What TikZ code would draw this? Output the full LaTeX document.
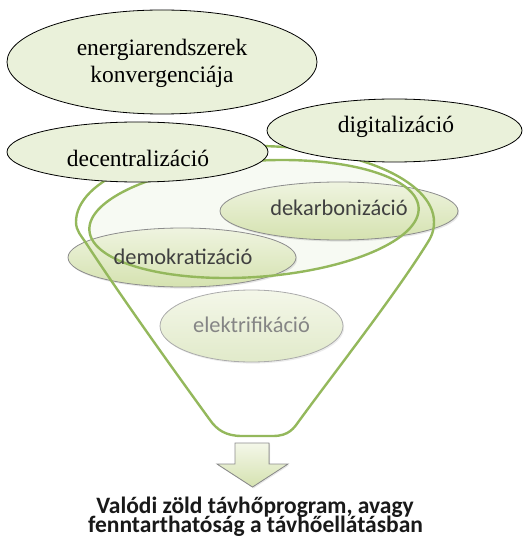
\documentclass[tikz,border=0pt]{standalone}
\usepackage{fontspec}
\setmainfont{Liberation Serif}
\newfontfamily\carlito{Carlito}
\usetikzlibrary{shapes.geometric,shadows}
\definecolor{funnelgreen}{HTML}{94B85C}
\definecolor{paleg}{HTML}{EAF1DA}
\definecolor{glowg}{HTML}{F7FAF3}
\definecolor{gtop}{HTML}{EFF4E0}
\definecolor{gbot}{HTML}{D5E2B0}
\definecolor{ltop}{HTML}{F4F7E9}
\definecolor{lbot}{HTML}{E1EACA}
\definecolor{greyline}{HTML}{8C8C8C}
\definecolor{lgreyline}{HTML}{ABABAB}
\definecolor{darktext}{HTML}{404040}
\definecolor{lighttext}{HTML}{858585}
\begin{document}
\begin{tikzpicture}[x=1pt,y=-1pt,
  blackell/.style={ellipse, draw=black, line width=0.8pt, fill=paleg, inner sep=0pt},
  greyell/.style={ellipse, draw=greyline, line width=0.8pt, top color=gtop, bottom color=gbot,
     inner sep=0pt, drop shadow={opacity=0.2, shadow xshift=1.2pt, shadow yshift=-1.6pt}},
  lightell/.style={ellipse, draw=lgreyline, line width=0.8pt, top color=ltop, bottom color=lbot,
     inner sep=0pt, drop shadow={opacity=0.15, shadow xshift=1.2pt, shadow yshift=-1.6pt}},
  funnel/.style={draw=funnelgreen, line width=2.4pt, line join=round},
  seriftext/.style={anchor=base, inner sep=0pt, font=\fontsize{23.5}{27}\selectfont, text=black},
  sanstext/.style={anchor=base, inner sep=0pt, font=\carlito\fontsize{22.4}{26}\selectfont, text=darktext},
  boldtext/.style={anchor=base, inner sep=0pt, font=\carlito\bfseries\fontsize{23.5}{19}\selectfont, text=black!90},
  arrowsty/.style={draw=greyline, line width=0.8pt, top color=ltop, bottom color=gbot,
     drop shadow={opacity=0.2, shadow xshift=1pt, shadow yshift=-1.4pt}}
]
\useasboundingbox (0,0) rectangle (526,537);

% faint glow inside the funnel rim
\node[ellipse, fill=glowg, draw=none, rotate=4, minimum width=330pt, minimum height=116pt, inner sep=0pt] (glow) at (254,219) {};

% inner ellipses
\node[greyell, minimum width=238pt, minimum height=58pt] (dekE) at (339,211) {};
\node[greyell, minimum width=228pt, minimum height=59pt] (demE) at (182,257.5) {};
\node[lightell, minimum width=183pt, minimum height=72pt] (eleE) at (251.5,326) {};

% funnel outline
\node[ellipse, funnel, rotate=4, minimum width=330pt, minimum height=116pt, inner sep=0pt] (rim) at (254,219) {};
\draw[funnel] (434,222) arc[start angle=0, end angle=-180, x radius=179, y radius=76]
  .. controls (76,231) and (81.6,236.3) .. (86,243)
  .. controls (120,295) and (170,365) .. (210,420)
  .. controls (217,430) and (226,436) .. (242,436)
  -- (273,436)
  .. controls (289,436) and (294,428) .. (299,421)
  .. controls (340,365) and (395,295) .. (428,242)
  .. controls (433,234) and (434,228) .. (434,222) -- cycle;

% texts of inner ellipses
\node[sanstext] (dekT) at (339,215) {dekarbonizáció};
\node[sanstext] (demT) at (183,264) {demokratizáció};
\node[sanstext, text=lighttext] (eleT) at (251.5,332) {elektrifikáció};

% outer ellipses
\node[blackell, minimum width=310pt, minimum height=104pt] (eneE) at (162,62) {};
\node[blackell, minimum width=255pt, minimum height=63pt] (digE) at (394.5,130.5) {};
\node[blackell, minimum width=261pt, minimum height=60pt] (decE) at (137.5,152) {};

\node[anchor=center, align=center, inner sep=0pt, font=\fontsize{23.5}{27}\selectfont] (eneT) at (162,63) {energiarendszerek\\konvergenciája};
\node[seriftext] (digT) at (396,133) {digitalizáció};
\node[seriftext] (decT) at (138,167) {decentralizáció};

% arrow
\filldraw[arrowsty] (235,443) -- (269,443) -- (269,464) -- (288,464) -- (252.5,487) -- (217,464) -- (235,464) -- cycle;
\coordinate (arrowtip) at (252.5,487);

% result text
\node[boldtext] (res1) at (255,513) {Valódi zöld távhőprogram, avagy};
\node[boldtext] (res2) at (255.5,532) {fenntarthatóság a távhőellátásban};
\end{tikzpicture}
\end{document}
